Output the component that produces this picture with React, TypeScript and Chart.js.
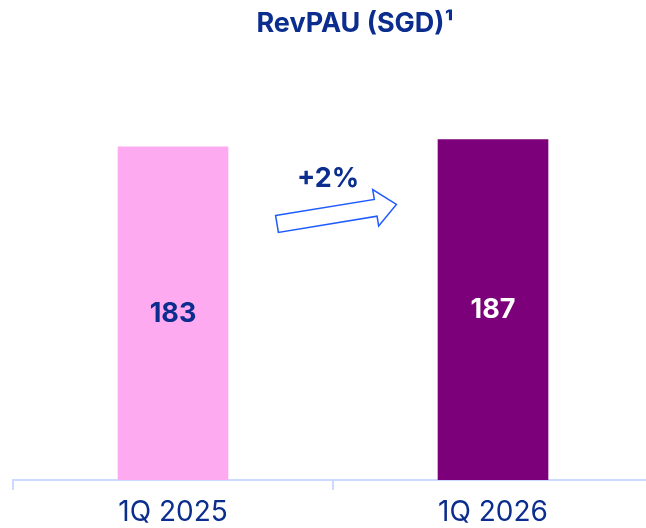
import React, { useEffect, useRef } from "react";
import { Chart, registerables } from "chart.js";

Chart.register(...registerables);

const categories = ["1Q 2025", "1Q 2026"];
const values = [183, 187];
const barColors = ["#FDAAF0", "#7B0079"];
const labelColors = ["#0B2D8E", "#FFFFFF"];
const titleText = "RevPAU (SGD)¹";
const changeText = "+2%";

const TEXT = "#0B2D8E";
const FONT = "Inter, 'Noto Sans', sans-serif";

const overlay = {
  id: "overlay",
  afterDatasetsDraw(chart: any) {
    const ctx = chart.ctx;
    const meta = chart.getDatasetMeta(0);
    ctx.save();
    // title
    ctx.fillStyle = TEXT;
    ctx.font = `bold 27px ${FONT}`;
    ctx.textAlign = "center";
    ctx.textBaseline = "middle";
    ctx.fillText(titleText, 355, 24);
    // value labels
    ctx.font = `bold 27px ${FONT}`;
    meta.data.forEach((bar: any, i: number) => {
      ctx.fillStyle = labelColors[i];
      ctx.fillText(String(values[i]), bar.x, (bar.y + bar.base) / 2);
    });
    // change label
    ctx.fillStyle = TEXT;
    ctx.fillText(changeText, 328, 179);
    // arrow
    ctx.translate(277, 224);
    ctx.rotate((-9.3 * Math.PI) / 180);
    const L = 121, head = 21, sh = 8.5, hh = 18.5;
    ctx.beginPath();
    ctx.moveTo(0, -sh);
    ctx.lineTo(L - head, -sh);
    ctx.lineTo(L - head, -hh);
    ctx.lineTo(L, 0);
    ctx.lineTo(L - head, hh);
    ctx.lineTo(L - head, sh);
    ctx.lineTo(0, sh);
    ctx.closePath();
    ctx.fillStyle = "#FFFFFF";
    ctx.fill();
    ctx.strokeStyle = "#1F5BFF";
    ctx.lineWidth = 1.5;
    ctx.stroke();
    ctx.restore();
  },
};

export default function App() {
  const ref = useRef<HTMLCanvasElement>(null);
  useEffect(() => {
    if (!ref.current) return;
    const chart = new Chart(ref.current, {
      type: "bar",
      data: {
        labels: categories,
        datasets: [
          {
            data: values,
            backgroundColor: barColors,
            barThickness: 110,
          },
        ],
      },
      options: {
        responsive: false,
        animation: false,
        devicePixelRatio: 1,
        layout: { padding: { top: 116, left: 13, right: 7, bottom: 0 } },
        plugins: { legend: { display: false }, tooltip: { enabled: false }, title: { display: false } },
        scales: {
          y: { display: false, min: 0, max: 200 },
          x: {
            offset: true,
            border: { display: true, color: "#CCDAFF", width: 2 },
            grid: { display: true, offset: true, drawOnChartArea: false, color: "#CCDAFF", tickLength: 10, lineWidth: 2 },
            ticks: { color: TEXT, font: { family: FONT, size: 28 }, padding: 6 },
            afterFit: (s: any) => {
              s.height = 60;
            },
          },
        },
      },
      plugins: [overlay],
    });
    return () => chart.destroy();
  }, []);
  return (
    <div style={{ position: "fixed", left: 0, top: 0, width: 646, height: 528, overflow: "hidden", background: "#fff" }}>
      <canvas ref={ref} width={660} height={540} style={{ display: "block" }} />
    </div>
  );
}
